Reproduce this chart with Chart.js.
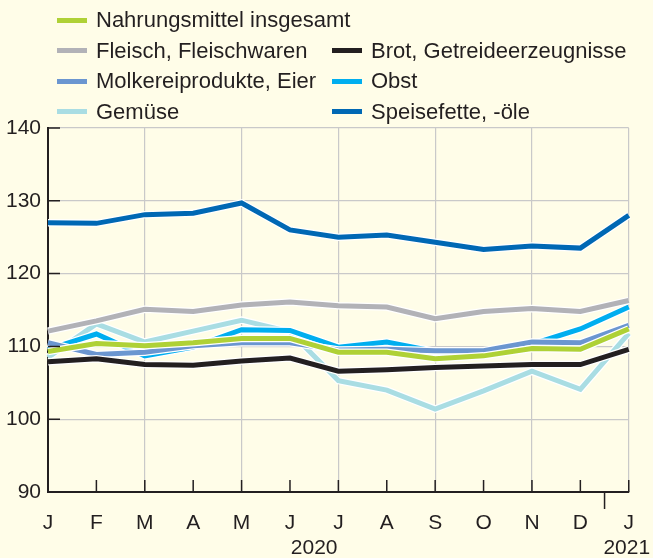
<!DOCTYPE html>
<html lang="de">
<head>
<meta charset="utf-8">
<title>Verbraucherpreise Nahrungsmittel</title>
<script src="https://cdn.jsdelivr.net/npm/chart.js@4/dist/chart.umd.min.js"></script>
<style>
    html, body {
        margin: 0;
        padding: 0;
        background: #fffde8;
    }
    .wrap {
        position: relative;
        width: 653px;
        height: 558px;
        font-family: 'Liberation Sans', Arial, sans-serif;
        color: #231f20;
    }
    #chart {
        position: absolute;
        left: 0;
        top: 0;
    }
    .legend {
        position: absolute;
        left: 57px;
        top: 5px;
        display: grid;
        grid-template-columns: 275px 300px;
        grid-auto-rows: 30.5px;
        font-size: 22px;
    }
    .legend-item {
        display: flex;
        align-items: center;
        white-space: nowrap;
    }
    .legend-swatch {
        flex: none;
        display: inline-block;
        width: 30px;
        height: 5px;
        margin-right: 9px;
    }
</style>
</head>
<body>
<div class="wrap">
    <canvas id="chart" width="653" height="558"></canvas>
    <div class="legend" id="legend"></div>
</div>
<script>
/* ── Data ── */
const months = ['J', 'F', 'M', 'A', 'M', 'J', 'J', 'A', 'S', 'O', 'N', 'D', 'J'];
const years = [
    { label: '2020', from: 0, to: 11 },
    { label: '2021', from: 12, to: 12 }
];
const yTicks = [90, 100, 110, 120, 130, 140];

const nahrungsmittel = [109.3, 110.4, 110.1, 110.5, 111.1, 111.1, 109.2, 109.2, 108.3, 108.7, 109.7, 109.6, 112.4];
const fleisch        = [112.1, 113.5, 115.1, 114.8, 115.7, 116.1, 115.6, 115.4, 113.8, 114.8, 115.2, 114.8, 116.3];
const brot           = [107.9, 108.3, 107.5, 107.4, 108.0, 108.4, 106.6, 106.8, 107.1, 107.3, 107.5, 107.5, 109.6];
const molkerei       = [110.5, 108.9, 109.2, 110.1, 110.5, 110.5, 109.5, 109.6, 109.4, 109.4, 110.6, 110.5, 112.9];
const obst           = [109.6, 111.7, 108.7, 109.9, 112.3, 112.2, 109.9, 110.6, 109.3, 109.2, 110.3, 112.4, 115.4];
const gemuese        = [108.5, 113.1, 110.6, 112.1, 113.6, 112.0, 105.3, 104.0, 101.4, 103.9, 106.6, 104.1, 111.8];
const speisefette    = [127.0, 126.9, 128.1, 128.3, 129.7, 126.0, 125.0, 125.3, 124.3, 123.3, 123.8, 123.5, 128.0];

/* Series listed back-to-front (first one is drawn behind) */
const series = [
    { name: 'Gemüse', data: gemuese, color: '#a9dde3' },
    { name: 'Obst', data: obst, color: '#00aeef' },
    { name: 'Molkereiprodukte, Eier', data: molkerei, color: '#6b96d0' },
    { name: 'Nahrungsmittel insgesamt', data: nahrungsmittel, color: '#afd136' },
    { name: 'Brot, Getreideerzeugnisse', data: brot, color: '#231f20' },
    { name: 'Fleisch, Fleischwaren', data: fleisch, color: '#b2b2b7' },
    { name: 'Speisefette, -öle', data: speisefette, color: '#0068b4' }
];

/* Legend layout, row by row (null = empty cell) */
const legendOrder = [
    'Nahrungsmittel insgesamt', null,
    'Fleisch, Fleischwaren', 'Brot, Getreideerzeugnisse',
    'Molkereiprodukte, Eier', 'Obst',
    'Gemüse', 'Speisefette, -öle'
];

const INK = '#231f20';
const GRID = '#c9c9c9';
const FONT = "'Liberation Sans', Arial, sans-serif";
const FONT_SIZE = 21;

document.addEventListener('DOMContentLoaded', () => {
    buildLegend();
    initChart();
});

function buildLegend() {
    const box = document.getElementById('legend');
    box.innerHTML = legendOrder.map(name => {
        if (!name) return '<div></div>';
        const s = series.find(x => x.name === name);
        return `<div class="legend-item"><span class="legend-swatch" style="background:${s.color}"></span><span>${name}</span></div>`;
    }).join('');
}

/* Tick marks inside the plot, year labels and the year separator */
const axisDecor = {
    id: 'axisDecor',
    afterDatasetsDraw(chart) {
        const { ctx, chartArea, scales } = chart;
        const x = scales.x, y = scales.y;
        ctx.save();
        ctx.strokeStyle = INK;
        ctx.lineWidth = 1.5;
        ctx.beginPath();
        months.forEach((m, i) => {
            const px = x.getPixelForValue(i);
            ctx.moveTo(px, chartArea.bottom);
            ctx.lineTo(px, chartArea.bottom - 12);
        });
        yTicks.forEach(v => {
            const py = y.getPixelForValue(v);
            ctx.moveTo(chartArea.left, py);
            ctx.lineTo(chartArea.left + 12, py);
        });
        // separator between December and January
        const sep = (x.getPixelForValue(11) + x.getPixelForValue(12)) / 2;
        ctx.moveTo(sep, chartArea.bottom);
        ctx.lineTo(sep, chartArea.bottom + 17);
        ctx.stroke();

        ctx.fillStyle = INK;
        ctx.font = FONT_SIZE + 'px ' + FONT;
        ctx.textAlign = 'center';
        ctx.textBaseline = 'middle';
        years.forEach(yr => {
            const cx = (x.getPixelForValue(yr.from) + x.getPixelForValue(yr.to)) / 2;
            ctx.fillText(yr.label, yr.to === 12 ? cx - 2 : cx, 548);
        });
        ctx.restore();
    }
};

function initChart() {
    const ctx = document.getElementById('chart');

    // each series gets a white outline underneath
    const datasets = [];
    series.forEach((s, i) => {
        const order = (series.length - i) * 2;
        datasets.push({
            label: s.name + ' (Kontur)',
            data: s.data,
            borderColor: '#ffffff',
            borderWidth: 7.5,
            pointRadius: 0,
            tension: 0,
            fill: false,
            order: order
        });
        datasets.push({
            label: s.name,
            data: s.data,
            borderColor: s.color,
            borderWidth: 5,
            pointRadius: 0,
            tension: 0,
            fill: false,
            order: order - 1
        });
    });

    new Chart(ctx, {
        type: 'line',
        data: {
            labels: months,
            datasets: datasets
        },
        options: {
            responsive: false,
            animation: false,
            events: [],
            layout: {
                padding: { top: 128, right: 23, bottom: 0, left: 0 }
            },
            plugins: {
                legend: { display: false },
                tooltip: { enabled: false }
            },
            scales: {
                x: {
                    offset: false,
                    afterFit: scale => { scale.height = 66; },
                    grid: {
                        drawTicks: false,
                        lineWidth: 1.2,
                        color: c => (c.index > 0 && c.index % 2 === 0) ? GRID : 'transparent'
                    },
                    border: { color: INK, width: 2 },
                    ticks: {
                        color: INK,
                        padding: 19,
                        maxRotation: 0,
                        autoSkip: false,
                        font: { family: FONT, size: FONT_SIZE }
                    }
                },
                y: {
                    min: 90,
                    max: 140,
                    afterFit: scale => { scale.width = 48; },
                    afterBuildTicks: scale => {
                        scale.ticks = yTicks.map(v => ({ value: v }));
                    },
                    grid: {
                        drawTicks: false,
                        lineWidth: 1.2,
                        color: c => c.tick && c.tick.value === 90 ? 'transparent' : GRID
                    },
                    border: { color: INK, width: 2 },
                    ticks: {
                        color: INK,
                        padding: 7,
                        font: { family: FONT, size: FONT_SIZE }
                    }
                }
            }
        },
        plugins: [axisDecor]
    });
}
</script>
</body>
</html>
